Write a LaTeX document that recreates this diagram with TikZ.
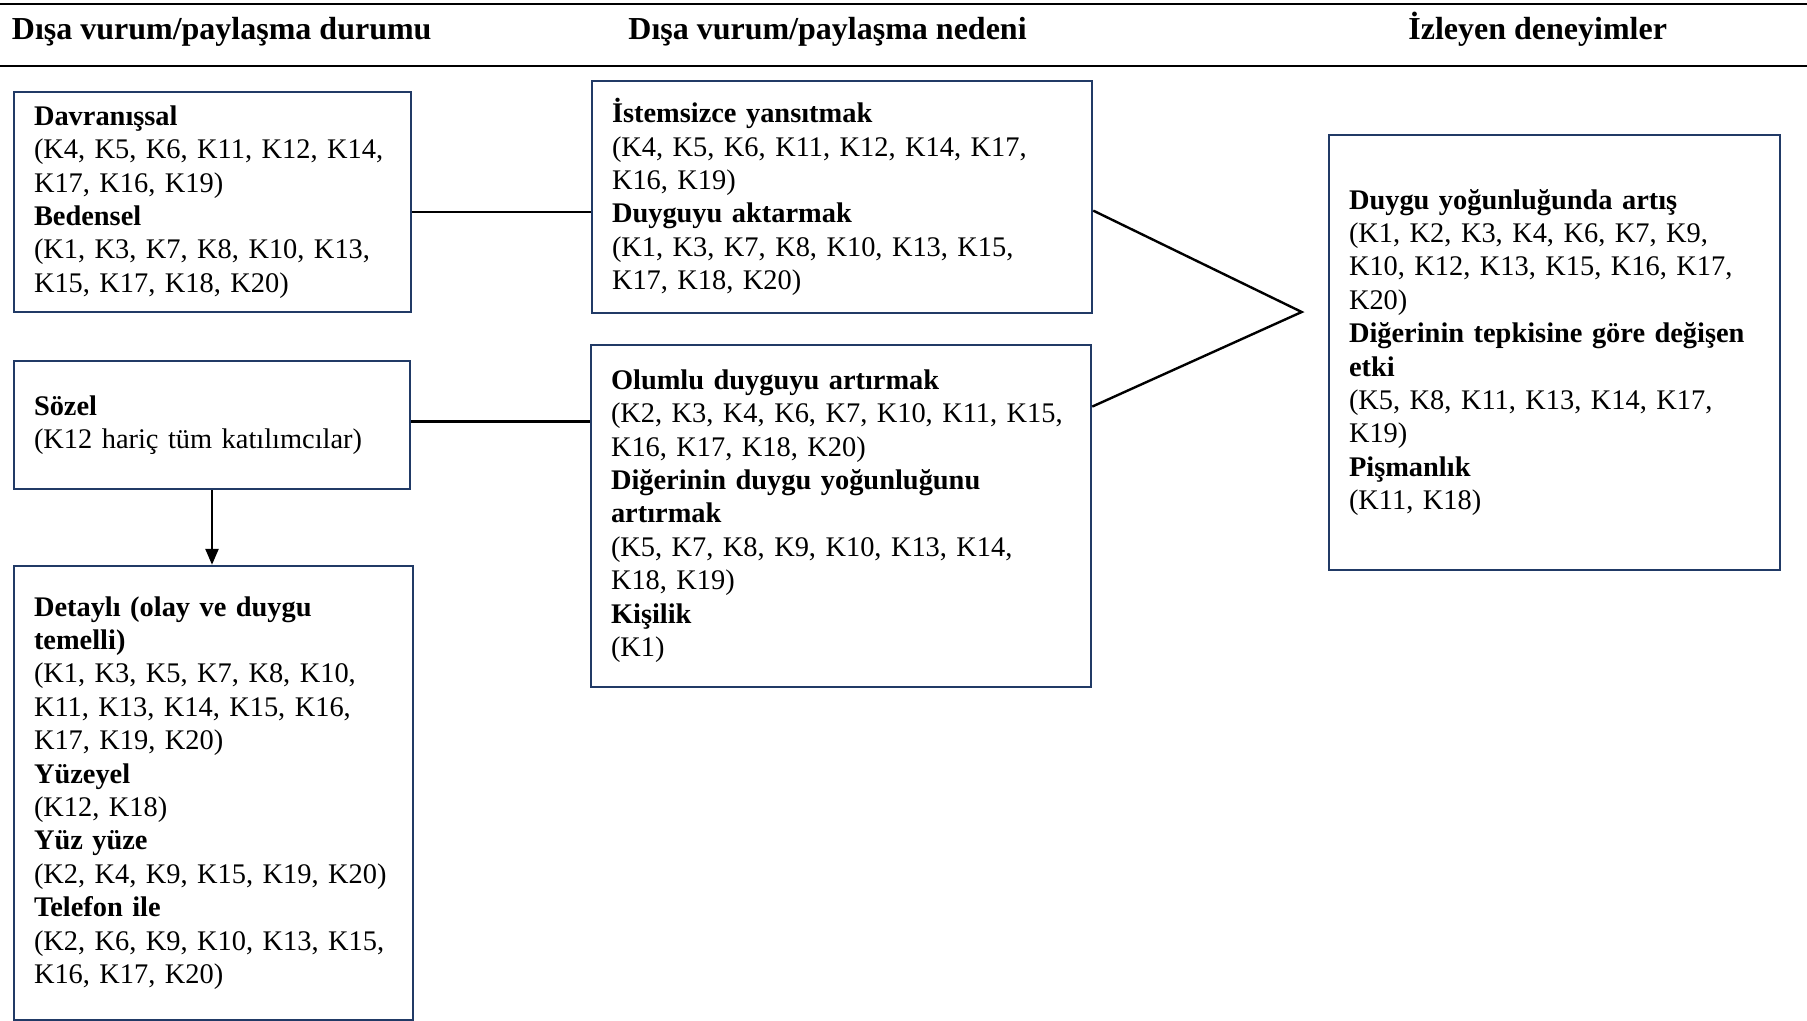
\documentclass[tikz,border=0pt]{standalone}
\usepackage{fontspec}
\setmainfont{Liberation Serif}
\usetikzlibrary{arrows.meta,calc}
\definecolor{lacivert}{HTML}{213A66}
\tikzset{
  kutu/.style={draw=lacivert,line width=1.2pt,align=left,inner xsep=10pt,inner ysep=0pt,font=\fontsize{14.2}{16.7}\selectfont},
  baglanti/.style={black,line width=1.2pt},
  ok/.style={-{Triangle[length=8pt,width=6.5pt]},black,line width=1.2pt},
  baslik/.style={anchor=base west,inner sep=0pt,font=\bfseries\fontsize{16}{18}\selectfont},
  cizgi/.style={black,line width=1pt},
}

\begin{document}
\begin{tikzpicture}[x=0.5pt,y=-0.5pt]
  \useasboundingbox (0,0) rectangle (1807,1021);
  % ust ve alt cizgi
  \draw[cizgi] (0,4.3)--(1807,4.3);
  \draw[cizgi] (0,66)--(1807,66);
  \node[baslik] (durum) at (11.5,40) {Dışa vurum/paylaşma durumu};
  \node[baslik] (neden) at (628,40) {Dışa vurum/paylaşma nedeni};
  \node[baslik] (izleyen) at (1408,40) {İzleyen deneyimler};
  % sol sutun
  \node[kutu,text width=178.5pt,minimum height=110pt] (davranis) at (212.5,202)
    {\textbf{Davranışsal}\\(K4, K5, K6, K11, K12, K14,\\K17, K16, K19)\\\textbf{Bedensel}\\(K1, K3, K7, K8, K10, K13,\\K15, K17, K18, K20)};
  \node[kutu,text width=178pt,minimum height=64pt] (sozel) at (212,425)
    {\textbf{Sözel}\\(K12 hariç tüm katılımcılar)};
  \node[kutu,text width=179.5pt,minimum height=227pt] (detayli) at (213.5,793)
    {\textbf{Detaylı (olay ve duygu}\\\textbf{temelli)}\\(K1, K3, K5, K7, K8, K10,\\K11, K13, K14, K15, K16,\\K17, K19, K20)\\\textbf{Yüzeyel}\\(K12, K18)\\\textbf{Yüz yüze}\\(K2, K4, K9, K15, K19, K20)\\\textbf{Telefon ile}\\(K2, K6, K9, K10, K13, K15,\\K16, K17, K20)};
  % orta sutun
  \node[kutu,text width=230pt,minimum height=116pt] (istem) at (842,197)
    {\textbf{İstemsizce yansıtmak}\\(K4, K5, K6, K11, K12, K14, K17,\\K16, K19)\\\textbf{Duyguyu aktarmak}\\(K1, K3, K7, K8, K10, K13, K15,\\K17, K18, K20)};
  \node[kutu,text width=230pt,minimum height=171pt] (olumlu) at (841,516)
    {\textbf{Olumlu duyguyu artırmak}\\(K2, K3, K4, K6, K7, K10, K11, K15,\\K16, K17, K18, K20)\\\textbf{Diğerinin duygu yoğunluğunu}\\\textbf{artırmak}\\(K5, K7, K8, K9, K10, K13, K14,\\K18, K19)\\\textbf{Kişilik}\\(K1)};
  % sag sutun
  \node[kutu,text width=205.5pt,minimum height=217.5pt] (deneyim) at (1554.5,352.5)
    {\textbf{Duygu yoğunluğunda artış}\\(K1, K2, K3, K4, K6, K7, K9,\\K10, K12, K13, K15, K16, K17,\\K20)\\\textbf{Diğerinin tepkisine göre değişen}\\\textbf{etki}\\(K5, K8, K11, K13, K14, K17,\\K19)\\\textbf{Pişmanlık}\\(K11, K18)};
  % baglantilar
  \draw[baglanti] ([yshift=-5pt]davranis.east) -- ([yshift=-5pt]davranis.east -| istem.west);
  \draw[baglanti] ([yshift=1.8pt]sozel.east) -- ([yshift=1.8pt]sozel.east -| olumlu.west);
  \draw[ok] (sozel.south) -- (sozel.south |- detayli.north);
  \coordinate (birlesim) at (1301.7,312);
  \draw[baglanti] ([yshift=-6.8pt]istem.east) -- (birlesim) -- ([yshift=54.7pt]olumlu.east);
\end{tikzpicture}
\end{document}
